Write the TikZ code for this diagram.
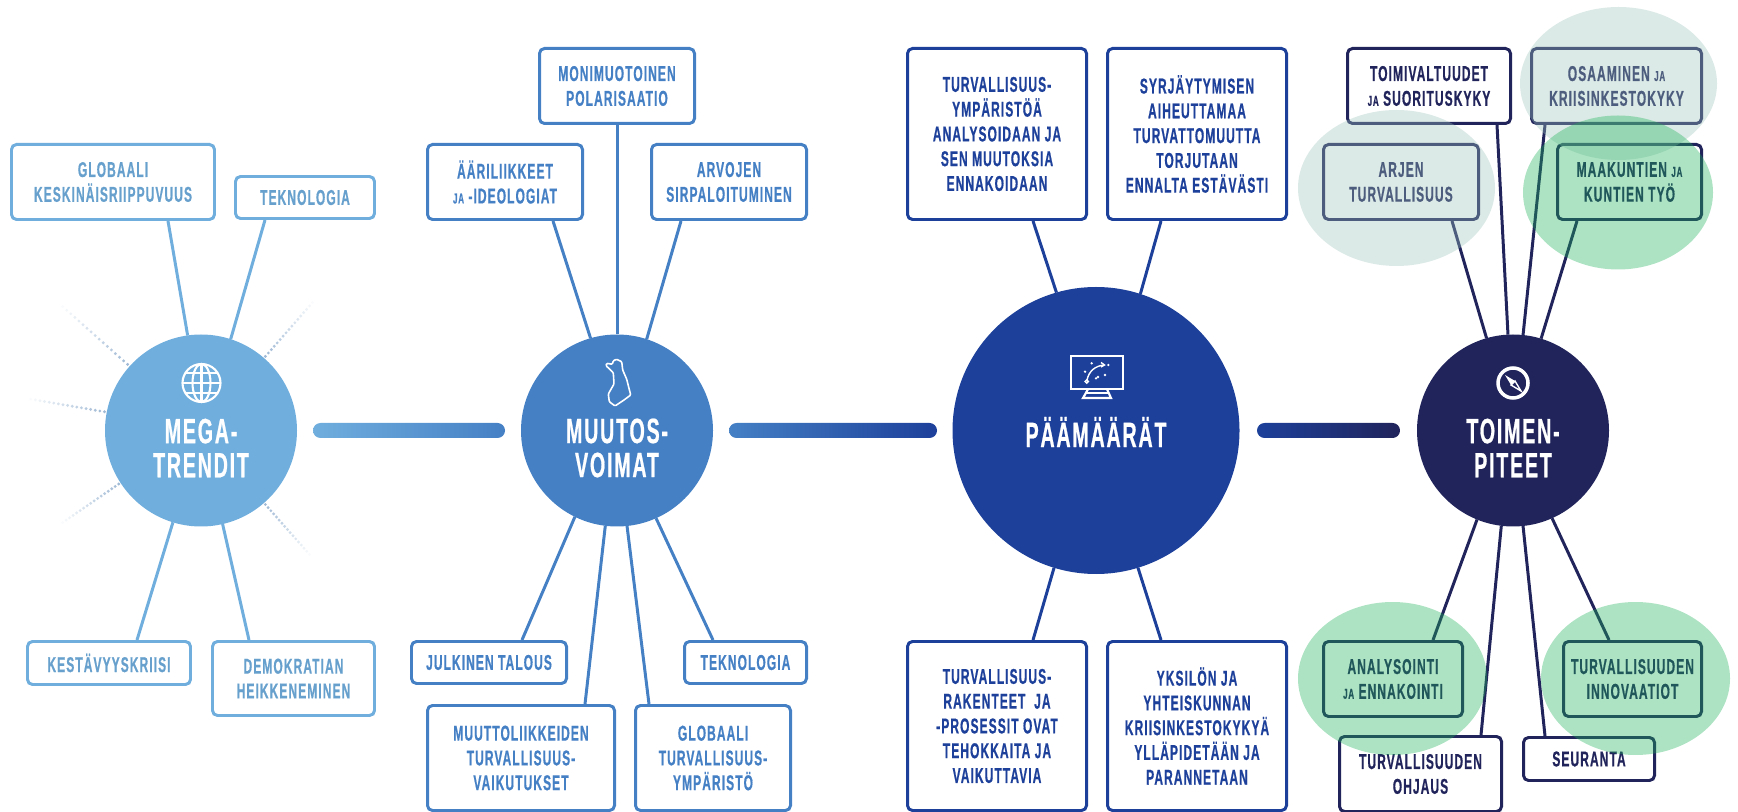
\documentclass[tikz,border=0pt]{standalone}
\usepackage{xcolor}
\usepackage{fontspec}
\usetikzlibrary{calc,shapes.geometric}
\setmainfont[FakeStretch=0.56,LetterSpace=5,BoldFeatures={FakeBold=0.6}]{Liberation Sans}
\definecolor{MEGA}{HTML}{70AEDE}
\definecolor{MUUTOS}{HTML}{4580C5}
\definecolor{PAAMAARA}{HTML}{1D409A}
\definecolor{TOIMI}{HTML}{21245B}
\definecolor{PALE}{HTML}{9CC4BA}
\definecolor{GREEN}{HTML}{1CB259}
\definecolor{RAYDOT}{HTML}{9DB8D4}
\newcommand{\ja}{{\fontsize{4.1}{7.1}\selectfont JA}}
\tikzset{
  basebox/.style={draw, line width=0.85pt, rounded corners=0.05cm, inner sep=0pt, align=center, text centered, font=\fontsize{6.1}{7.05}\selectfont\bfseries},
  megabox/.style={basebox, draw=MEGA, text=MEGA!92!black},
  muutosbox/.style={basebox, draw=MUUTOS, text=MUUTOS},
  paabox/.style={basebox, draw=PAAMAARA, text=PAAMAARA},
  toimibox/.style={basebox, draw=TOIMI, text=TOIMI},
  hub/.style={circle, inner sep=0pt, outer sep=0pt},
  hubtext/.style={text=white, align=center, font=\fontsize{10}{9.7}\selectfont\bfseries},
  spoke/.style={line width=0.85pt},
  bar/.style={rounded corners=0.075cm},
  halo/.style={ellipse, inner sep=0pt, outer sep=0pt, fill opacity=0.36},
  icon/.style={draw=white, line width=0.6pt}
}
\begin{document}
\begin{tikzpicture}%
\useasboundingbox (0,0) rectangle (17.38,8.11);%
% hubs
\node[hub, fill=MEGA, minimum size=1.92cm] (mega) at (2.01,3.805) {};%
\node[hub, fill=MUUTOS, minimum size=1.92cm] (muutos) at (6.17,3.805) {};%
\node[hub, fill=PAAMAARA, minimum size=2.87cm] (paamaara) at (10.96,3.805) {};%
\node[hub, fill=TOIMI, minimum size=1.92cm] (toimi) at (15.13,3.805) {};%
\node[hubtext] (megatext) at (2.01,3.63) {MEGA-\\TRENDIT};%
\node[hubtext] (muutostext) at (6.17,3.63) {MUUTOS-\\VOIMAT};%
\node[hubtext] (paatext) at (10.96,3.79) {PÄÄMÄÄRÄT};%
\node[hubtext] (toimitext) at (15.13,3.63) {TOIMEN-\\PITEET};%
% bars between hubs
\shade[bar, left color=MEGA, right color=MUUTOS] ([shift={(0.16,-0.075)}]mega.east) rectangle ([shift={(-0.16,0.075)}]muutos.west);%
\shade[bar, left color=MUUTOS, right color=PAAMAARA] ([shift={(0.16,-0.075)}]muutos.east) rectangle ([shift={(-0.155,0.075)}]paamaara.west);%
\shade[bar, left color=PAAMAARA, right color=TOIMI] ([shift={(0.175,-0.075)}]paamaara.east) rectangle ([shift={(-0.17,0.075)}]toimi.west);%
% megatrendit
\node[megabox, minimum width=2.03cm, minimum height=0.75cm] (keskin) at (1.13,6.29) {GLOBAALI\\KESKINÄISRIIPPUVUUS};%
\node[megabox, minimum width=1.39cm, minimum height=0.42cm] (tekno) at (3.05,6.135) {TEKNOLOGIA};%
\node[megabox, minimum width=1.63cm, minimum height=0.43cm] (kesta) at (1.09,1.48) {KESTÄVYYSKRIISI};%
\node[megabox, minimum width=1.62cm, minimum height=0.74cm] (demokr) at (2.935,1.325) {DEMOKRATIAN\\HEIKKENEMINEN};%
\draw[spoke, MEGA] ([xshift=0.55cm]keskin.south) -- (mega.98);%
\draw[spoke, MEGA] ([xshift=-0.4cm]tekno.south) -- (mega.72.6);%
\draw[spoke, MEGA] ([xshift=0.28cm]kesta.north) -- (mega.253);%
\draw[spoke, MEGA] ([xshift=-0.445cm]demokr.north) -- (mega.283);%
% faded rays
\coordinate (rayA) at (0.62,5.05);%
\coordinate (rayB) at (0.30,4.12);%
\coordinate (rayC) at (3.13,5.09);%
\coordinate (rayD) at (0.62,2.88);%
\coordinate (rayE) at (3.10,2.56);%
\foreach \a/\e in {138.5/rayA, 169.7/rayB, 49/rayC, 213.8/rayD, 311.4/rayE}{%
  \foreach \t [evaluate=\t as \o using 1-\t*0.95] in {0.03,0.09,...,1}{%
    \fill[RAYDOT, opacity=\o] ($(mega.\a)!\t!(\e)$) circle (0.016);%
  }%
}%
% muutosvoimat
\node[muutosbox, minimum width=1.55cm, minimum height=0.75cm] (moni) at (6.17,7.25) {MONIMUOTOINEN\\POLARISAATIO};%
\node[muutosbox, minimum width=1.55cm, minimum height=0.75cm] (aari) at (5.05,6.29) {ÄÄRILIIKKEET\\\ja{} -IDEOLOGIAT};%
\node[muutosbox, minimum width=1.55cm, minimum height=0.75cm] (arvo) at (7.29,6.29) {ARVOJEN\\SIRPALOITUMINEN};%
\node[muutosbox, minimum width=1.55cm, minimum height=0.42cm] (julk) at (4.89,1.485) {JULKINEN TALOUS};%
\node[muutosbox, minimum width=1.22cm, minimum height=0.42cm] (tekno2) at (7.455,1.485) {TEKNOLOGIA};%
\node[muutosbox, minimum width=1.87cm, minimum height=1.05cm] (muutto) at (5.21,0.53) {MUUTTOLIIKKEIDEN\\TURVALLISUUS-\\VAIKUTUKSET};%
\node[muutosbox, minimum width=1.55cm, minimum height=1.05cm] (globa) at (7.13,0.53) {GLOBAALI\\TURVALLISUUS-\\YMPÄRISTÖ};%
\draw[spoke, MUUTOS] (moni.south) -- (muutos.90);%
\draw[spoke, MUUTOS] ([xshift=0.48cm]aari.south) -- (muutos.106.8);%
\draw[spoke, MUUTOS] ([xshift=-0.48cm]arvo.south) -- (muutos.72.6);%
\draw[spoke, MUUTOS] ([xshift=0.33cm]julk.north) -- (muutos.244.9);%
\draw[spoke, MUUTOS] ([xshift=-0.325cm]tekno2.north) -- (muutos.294.6);%
\draw[spoke, MUUTOS] ([xshift=0.64cm]muutto.north) -- (muutos.263.4);%
\draw[spoke, MUUTOS] ([xshift=-0.64cm]globa.north) -- (muutos.276.6);%
% paamaarat
\node[paabox, minimum width=1.79cm, minimum height=1.71cm] (ymparisto) at (9.97,6.77) {TURVALLISUUS-\\YMPÄRISTÖÄ\\ANALYSOIDAAN JA\\SEN MUUTOKSIA\\ENNAKOIDAAN};%
\node[paabox, minimum width=1.79cm, minimum height=1.71cm] (syrjay) at (11.97,6.77) {SYRJÄYTYMISEN\\AIHEUTTAMAA\\TURVATTOMUUTTA\\TORJUTAAN\\ENNALTA ESTÄVÄSTI};%
\node[paabox, minimum width=1.79cm, minimum height=1.69cm] (raken) at (9.97,0.85) {TURVALLISUUS-\\RAKENTEET~~JA\\-PROSESSIT OVAT\\TEHOKKAITA JA\\VAIKUTTAVIA};%
\node[paabox, minimum width=1.79cm, minimum height=1.69cm] (yksilo) at (11.97,0.85) {YKSILÖN JA\\YHTEISKUNNAN\\KRIISINKESTOKYKYÄ\\YLLÄPIDETÄÄN JA\\PARANNETAAN};%
\draw[spoke, PAAMAARA] ([xshift=0.36cm]ymparisto.south) -- (paamaara.106.7);%
\draw[spoke, PAAMAARA] ([xshift=-0.36cm]syrjay.south) -- (paamaara.72.5);%
\draw[spoke, PAAMAARA] ([xshift=0.36cm]raken.north) -- (paamaara.253.3);%
\draw[spoke, PAAMAARA] ([xshift=-0.36cm]yksilo.north) -- (paamaara.287);%
% toimenpiteet
\node[toimibox, minimum width=1.63cm, minimum height=0.75cm] (valta) at (14.29,7.25) {TOIMIVALTUUDET\\\ja{} SUORITUSKYKY};%
\node[toimibox, minimum width=1.70cm, minimum height=0.75cm] (osaa) at (16.165,7.25) {OSAAMINEN \ja\\KRIISINKESTOKYKY};%
\node[toimibox, minimum width=1.55cm, minimum height=0.75cm] (arjen) at (14.01,6.29) {ARJEN\\TURVALLISUUS};%
\node[toimibox, minimum width=1.44cm, minimum height=0.75cm] (maak) at (16.295,6.29) {MAAKUNTIEN \ja\\KUNTIEN TYÖ};%
\node[toimibox, minimum width=1.39cm, minimum height=0.75cm] (analy) at (13.93,1.32) {ANALYSOINTI\\\ja{} ENNAKOINTI};%
\node[toimibox, minimum width=1.38cm, minimum height=0.75cm] (innov) at (16.325,1.32) {TURVALLISUUDEN\\INNOVAATIOT};%
\node[toimibox, minimum width=1.62cm, minimum height=0.75cm] (ohjaus) at (14.205,0.37) {TURVALLISUUDEN\\OHJAUS};%
\node[toimibox, minimum width=1.31cm, minimum height=0.43cm] (seur) at (15.89,0.52) {SEURANTA};%
\draw[spoke, TOIMI] ([xshift=0.68cm]valta.south) -- (toimi.93);%
\draw[spoke, TOIMI] ([xshift=-0.715cm]osaa.south) -- (toimi.84);%
\draw[spoke, TOIMI] ([xshift=0.51cm]arjen.south) -- (toimi.106.4);%
\draw[spoke, TOIMI] ([xshift=-0.525cm]maak.south) -- (toimi.73);%
\draw[spoke, TOIMI] ([xshift=0.40cm]analy.north) -- (toimi.248.7);%
\draw[spoke, TOIMI] ([xshift=0.605cm]ohjaus.north) -- (toimi.263.5);%
\draw[spoke, TOIMI] ([xshift=-0.44cm]seur.north) -- (toimi.276);%
\draw[spoke, TOIMI] ([xshift=-0.235cm]innov.north) -- (toimi.294);%
% highlight ellipses go over the boxes
\node[halo, fill=PALE, minimum width=1.97cm, minimum height=1.56cm] (haloarjen) at (13.965,6.23) {};%
\node[halo, fill=PALE, minimum width=1.97cm, minimum height=1.53cm] (haloosaa) at (16.185,7.275) {};%
\node[halo, fill=GREEN, minimum width=1.90cm, minimum height=1.54cm] (halomaak) at (16.18,6.185) {};%
\node[halo, fill=GREEN, minimum width=1.89cm, minimum height=1.53cm] (haloanaly) at (13.925,1.325) {};%
\node[halo, fill=GREEN, minimum width=1.89cm, minimum height=1.53cm] (haloinnov) at (16.355,1.325) {};%
% globe
\draw[icon] (2.015,4.28) circle (0.19);%
\draw[icon] (2.015,4.28) ellipse (0.09 and 0.19);%
\draw[icon] (2.015,4.09) -- (2.015,4.47);%
\draw[icon] (1.825,4.28) -- (2.205,4.28);%
\draw[icon] (1.855,4.38) -- (2.175,4.38);%
\draw[icon] (1.855,4.18) -- (2.175,4.18);%
% finland
\draw[icon, line width=0.45pt, rounded corners=0.01cm] (6.167,4.517) -- (6.217,4.493) -- (6.227,4.41) -- (6.267,4.317) -- (6.307,4.16) -- (6.24,4.11) -- (6.15,4.05) -- (6.093,4.093) -- (6.083,4.17) -- (6.14,4.27) -- (6.133,4.383) -- (6.06,4.453) -- (6.067,4.477) -- (6.123,4.467) -- (6.133,4.503) -- cycle;%
% board
\draw[icon, line width=0.6pt] (10.707,4.55) rectangle (11.233,4.218);%
\draw[icon, line width=0.6pt] (10.88,4.218) -- (10.83,4.13) -- (11.11,4.13) -- (11.07,4.218);%
\draw[icon] (10.86,4.18) -- (11.08,4.18);%
\draw[icon, line width=0.4pt] (10.87,4.31) .. controls (10.89,4.40) and (10.95,4.45) .. (11.04,4.46);%
\draw[icon, line width=0.4pt] (11.01,4.485) -- (11.045,4.46) -- (11.01,4.44);%
\draw[icon, line width=0.4pt] (10.867,4.295) circle (0.017);%
\foreach \x/\y in {10.917/4.477, 11.083/4.46, 10.85/4.393, 11.05/4.36, 10.96/4.327, 10.98/4.34}{%
  \fill[white] (\x,\y) circle (0.013);%
}%
% compass
\draw[icon, line width=1pt] (15.13,4.28) circle (0.15);%
\fill[white] (15.05,4.36) -- (15.15,4.30) -- (15.13,4.28) -- (15.11,4.26) -- cycle;%
\draw[icon, line width=0.4pt] (15.21,4.20) -- (15.15,4.30) -- (15.11,4.26) -- cycle;%
\end{tikzpicture}
\end{document}
